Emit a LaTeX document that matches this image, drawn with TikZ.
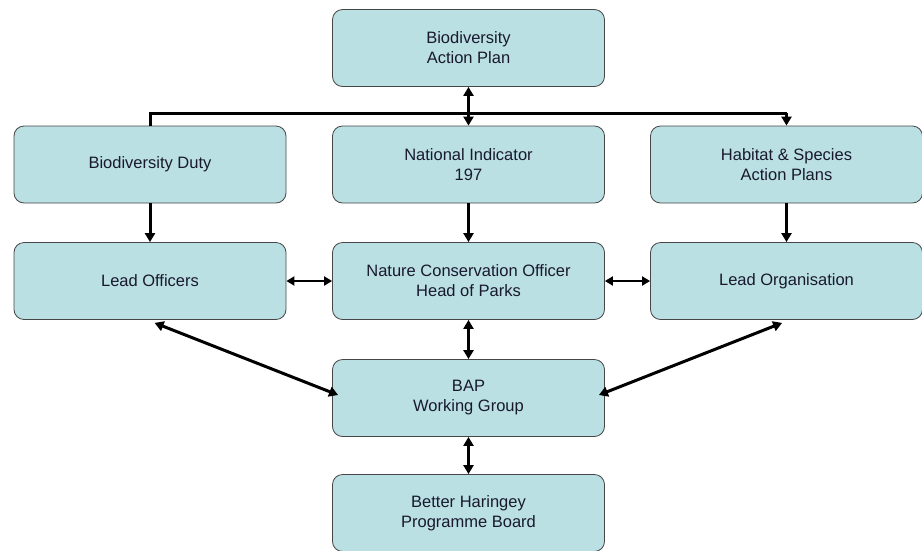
\documentclass[tikz,border=0pt]{standalone}
\usepackage{fontspec}
\setmainfont{Liberation Sans}
\usetikzlibrary{arrows.meta,calc}
\definecolor{boxfill}{RGB}{186,224,228}
\definecolor{boxline}{RGB}{70,70,70}
\definecolor{txt}{RGB}{25,25,45}
\tikzset{
  box/.style={draw=boxline, line width=0.8pt, fill=boxfill, rounded corners=10pt,
    minimum width=272pt, minimum height=77pt, inner sep=0pt, align=center,
    font=\fontsize{16.5}{20}\selectfont, text=txt},
  conn/.style={line width=3pt, draw=black},
  tip/.style={-{Triangle[length=9pt,width=10pt]}},
  dtip/.style={{Triangle[length=9pt,width=10pt]}-{Triangle[length=9pt,width=10pt]}},
  stip/.style={{Triangle[length=8pt,width=9pt]}-{Triangle[length=8pt,width=9pt]}, line width=2.2pt}
}
\begin{document}
\begin{tikzpicture}[x=1pt,y=-1pt]
\useasboundingbox (0,0) rectangle (922,550);
\node[box] (bap) at (468.5,48) {Biodiversity\\Action Plan};
\node[box] (bd) at (150,164.5) {Biodiversity Duty};
\node[box] (ni) at (468.5,164.5) {National Indicator\\197};
\node[box] (hs) at (786.5,164.5) {Habitat \& Species\\Action Plans};
\node[box] (lo) at (150,281) {Lead Officers};
\node[box] (nc) at (468.5,281) {Nature Conservation Officer\\Head of Parks};
\node[box] (lg) at (786.5,281) {Lead Organisation};
\node[box] (wg) at (468.5,398) {BAP\\Working Group};
\node[box] (bh) at (468.5,513) {Better Haringey\\Programme Board};
% top distribution
\coordinate (barL) at (bd.north |- 0,113);
\coordinate (barR) at (hs.north |- 0,113);
\draw[conn] (bd.north) -- (barL) -- (barR);
\draw[conn,tip] (barR) -- (hs.north);
\draw[conn,dtip] (bap.south) -- (ni.north);
% row 2 -> row 3
\draw[conn,tip] (bd.south) -- (lo.north);
\draw[conn,tip] (ni.south) -- (nc.north);
\draw[conn,tip] (hs.south) -- (lg.north);
% horizontal links
\draw[conn,stip] (lo.east) -- (nc.west);
\draw[conn,stip] (nc.east) -- (lg.west);
% to working group
\draw[conn,dtip] (nc.south) -- (wg.north);
\draw[conn,dtip] (wg.south) -- (bh.north);
\draw[conn,dtip] ($(lo.south west)+(141,3)$) -- ($(wg.west)+(6,-3)$);
\draw[conn,dtip] ($(lg.south west)+(132,3)$) -- ($(wg.east)+(-6,-3)$);
\end{tikzpicture}
\end{document}
